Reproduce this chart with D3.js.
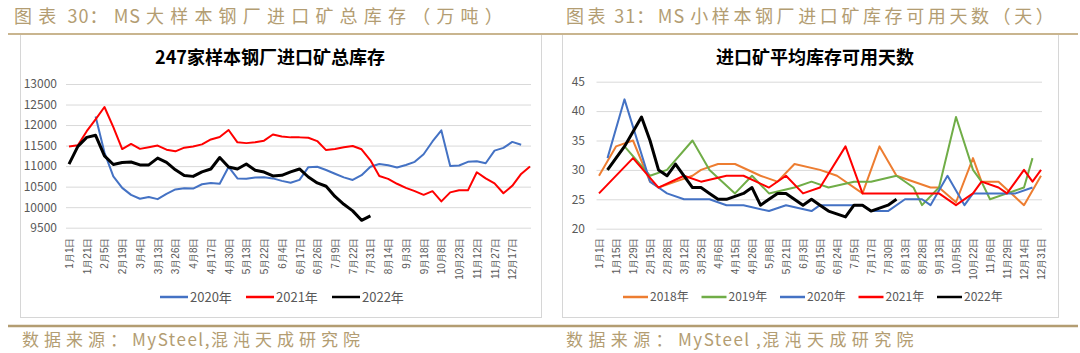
<!DOCTYPE html>
<html>
<head>
<meta charset="utf-8">
<script src="https://cdn.jsdelivr.net/npm/d3@7"></script>
<style>
body { margin: 0; background: #fff; }
svg { display: block; }
</style>
</head>
<body>
<div id="charts"></div>
<script>
// ---- chart 30: total imported ore stock (10k t), weekly points ----
var stockDates = ["1月1日","1月21日","2月5日","2月19日","3月4日","3月13日","3月26日","4月8日","4月17日","4月30日",
    "5月13日","5月22日","6月4日","6月17日","6月26日","7月9日","7月22日","7月31日","8月14日","9月3日",
    "9月18日","10月8日","10月23日","11月12日","11月27日","12月17日"];
var stockTicks = [9500, 10000, 10500, 11000, 11500, 12000, 12500, 13000];

var stock2020 = [null, null, null, 12210, 11330, 10750, 10470, 10300, 10205, 10250,
    10196, 10324, 10432, 10462, 10453, 10558, 10587, 10570, 10980, 10700,
    10694, 10725, 10730, 10701, 10640, 10596, 10665, 10975, 10983, 10906,
    10815, 10725, 10662, 10779, 10983, 11050, 11021, 10965, 11027, 11104,
    11290, 11600, 11870, 11000, 11014, 11105, 11117, 11070, 11377, 11444,
    11590, 11521];
var stock2021 = [11480, 11510, 11850, 12140, 12440, 11950, 11415, 11540, 11420, 11460,
    11500, 11400, 11360, 11450, 11480, 11530, 11650, 11710, 11880, 11580,
    11560, 11580, 11620, 11770, 11720, 11700, 11700, 11690, 11610, 11390,
    11415, 11460, 11490, 11410, 11140, 10760, 10690, 10570, 10470, 10390,
    10300, 10390, 10140, 10360, 10410, 10410, 10850, 10700, 10580, 10340,
    10520, 10810, 10990];
var stock2022 = [11050, 11480, 11700, 11750, 11250, 11040, 11090, 11100, 11030, 11030,
    11195, 11090, 10910, 10770, 10750, 10860, 10930, 11210, 10980, 10930,
    11050, 10900, 10855, 10760, 10775, 10860, 10930, 10735, 10590, 10510,
    10260, 10070, 9910, 9680, 9790];

// ---- chart 31: usable days of imported ore stock ----
var dayDates = ["1月1日","1月15日","1月29日","2月15日","2月28日","3月12日","3月25日","4月6日","4月15日","4月26日",
    "5月8日","5月21日","6月3日","6月15日","6月24日","7月5日","7月17日","7月30日","8月13日","8月28日",
    "9月13日","10月5日","10月22日","11月6日","11月29日","12月14日","12月31日"];
var dayTicks = [20, 25, 30, 35, 40, 45];

var days2018 = [29, null, 34, null, 35, null, 28, 27, null, 28,
    null, 29, 30, null, 31, null, 31, null, null, 29,
    null, 28, null, 31, null, null, 30, null, 29, null,
    null, 26, null, 34, null, 29, null, null, null, 27,
    27, null, 24.5, null, 32, 28, null, 28, null, null,
    24, null, 29];
var days2019 = [null, 30, null, 34, null, null, 29, null, 30, null,
    null, 35, null, 30, null, null, 26, null, 29, null,
    26, null, null, 27, null, 28, null, 27, null, null,
    28, null, 28, null, null, 29, null, 27, 24, null,
    27, null, 39, null, 30, 28, 25, null, 26, null,
    27, 32, null];
var days2020 = [null, 32, null, 42, null, null, 28, 27, 26, null,
    25, null, null, 25, null, 24, null, 24, null, null,
    23, null, 24, null, null, 23, 24, null, null, 24,
    null, 24, 23, null, 23, null, 25, null, 25, 24,
    null, 29, null, 24, 26, null, null, 26, null, 26,
    null, 27, null];
var days2021 = [26, null, null, null, 32, null, null, 27, null, null,
    29, null, 28, null, null, 29, null, 29, null, null,
    27, null, 29, null, 26, null, 27, null, null, 34,
    null, 26, null, null, null, null, null, null, null, null,
    26, null, 24, null, 26, 28, null, 27, 26, null,
    30, 28, 30];
var days2022 = [null, 30, null, 34, null, 39, 35, 30, 29, 31,
    null, 27, 27, 26, 25, 25, null, 26, 27, 24,
    25, 26, 26, null, 24, 25, 24, 23, null, 22,
    24, 24, 23, null, 24, 25];

var FONT = "'Noto Sans CJK SC', 'Noto Sans', sans-serif";
var TAN = "#b39d72";

var svg = d3.select("#charts").append("svg")
    .attr("width", 1080)
    .attr("height", 353)
    .style("background", "#fff");

// frames, header and footer rules
svg.append("rect").attr("x", 20.5).attr("y", 34.5).attr("width", 521).attr("height", 283)
    .attr("fill", "none").attr("stroke", "#d6d6d6");
svg.append("rect").attr("x", 562.5).attr("y", 34.5).attr("width", 496).attr("height", 283)
    .attr("fill", "none").attr("stroke", "#d6d6d6");
svg.append("line").attr("x1", 8).attr("x2", 1078).attr("y1", 34).attr("y2", 34)
    .attr("stroke", "#c9b58f").attr("stroke-width", 2);
svg.append("line").attr("x1", 8).attr("x2", 1078).attr("y1", 326).attr("y2", 326)
    .attr("stroke", TAN).attr("stroke-width", 2.5);

// wide spacing for CJK glyphs, tight for latin runs
function header(x, y, str, size, cjkGap, latinGap) {
    var t = svg.append("text")
        .attr("x", x).attr("y", y)
        .attr("font-family", FONT)
        .attr("font-size", size)
        .attr("fill", TAN);
    str.match(/[\u0000-\u00ff]+|[^\u0000-\u00ff]+/g).forEach(function(seg) {
        t.append("tspan")
            .attr("letter-spacing", /[\u0000-\u00ff]/.test(seg) ? latinGap : cjkGap)
            .text(seg);
    });
}
header(14, 23, "图表 30：MS 大样本钢厂进口矿总库存（万吨）", "18px", "6.2px", "1px");
header(566, 23, "图表 31：MS 小样本钢厂进口矿库存可用天数（天）", "18px", "3.6px", "1px");
header(22, 346, "数据来源：MySteel,混沌天成研究院", "17px", "5px", "1.5px");
header(566, 346, "数据来源：MySteel ,混沌天成研究院", "17px", "5.4px", "1.5px");

function drawPanel(p) {
    var g = svg.append("g");
    var x = d3.scalePoint().domain(d3.range(53)).range(p.xRange);
    var y = d3.scaleLinear().domain(p.yDomain).range(p.yRange);

    // gridlines + y labels
    g.append("g")
        .attr("transform", "translate(" + p.gridLeft + ",0)")
        .call(d3.axisLeft(y).tickValues(p.yTicks).tickFormat(d3.format("d"))
            .tickSize(-(p.gridRight - p.gridLeft)).tickPadding(p.pad))
        .call(a => a.select(".domain").remove())
        .call(a => a.selectAll("line").attr("stroke", "#d9d9d9"))
        .call(a => a.selectAll("text").attr("fill", "#595959"))
        .attr("font-family", FONT)
        .attr("font-size", "12px");

    // rotated date labels, every second week
    g.append("g")
        .attr("transform", "translate(0," + p.labelTop + ")")
        .attr("font-family", FONT)
        .attr("font-size", "11.5px")
        .call(d3.axisBottom(x).tickValues(p.dates.map((d, i) => i * 2))
            .tickFormat(i => p.dates[i / 2]).tickSize(0))
        .call(a => a.select(".domain").remove())
        .selectAll("text")
        .attr("transform", "rotate(-90)")
        .attr("x", 0).attr("y", 0).attr("dy", "0.35em")
        .attr("fill", "#595959")
        .style("text-anchor", "end");

    p.series.forEach(function(s) {
        var pts = s.values.map((v, i) => [i, v]).filter(d => d[1] != null);
        g.append("path")
            .datum(pts)
            .attr("fill", "none")
            .attr("stroke", s.color)
            .attr("stroke-width", s.width)
            .attr("stroke-linejoin", "round")
            .attr("d", d3.line().x(d => x(d[0])).y(d => y(d[1])));
    });

    // title
    g.append("text")
        .attr("x", p.titleX).attr("y", 64)
        .attr("text-anchor", "middle")
        .attr("font-family", FONT)
        .attr("font-weight", "bold")
        .attr("font-size", p.titleSize)
        .attr("fill", "#000")
        .text(p.title);

    // legend
    var leg = g.selectAll(".leg").data(p.series).enter().append("g")
        .attr("transform", (d, i) => "translate(" + (p.legendX + i * p.legendStep) + ",297)");
    leg.append("line").attr("x1", 0).attr("x2", p.legendLine)
        .attr("stroke", d => d.color).attr("stroke-width", 2.5);
    leg.append("text")
        .attr("x", p.legendLine + 2).attr("dy", "0.35em")
        .attr("font-family", FONT)
        .attr("font-size", p.legendSize)
        .attr("fill", "#595959")
        .text(d => d.name);
}

drawPanel({
    xRange: [69, 530], yDomain: [9500, 13000], yRange: [227.7, 84],
    gridLeft: 66, gridRight: 531, pad: 9, yTicks: stockTicks,
    dates: stockDates, labelTop: 237.5,
    title: "247家样本钢厂进口矿总库存", titleX: 270, titleSize: "18px",
    legendX: 160, legendStep: 86, legendLine: 28, legendSize: "13px",
    series: [
        { name: "2020年", values: stock2020, color: "#4472C4", width: 2 },
        { name: "2021年", values: stock2021, color: "#FF0000", width: 2 },
        { name: "2022年", values: stock2022, color: "#000000", width: 3 }
    ]
});

drawPanel({
    xRange: [599, 1041], yDomain: [20, 45], yRange: [228.7, 81.7],
    gridLeft: 596.5, gridRight: 1042, pad: 11.5, yTicks: dayTicks,
    dates: dayDates, labelTop: 237.5,
    title: "进口矿平均库存可用天数", titleX: 815, titleSize: "18px",
    legendX: 623, legendStep: 78.5, legendLine: 25, legendSize: "12px",
    series: [
        { name: "2018年", values: days2018, color: "#ED7D31", width: 2 },
        { name: "2019年", values: days2019, color: "#70AD47", width: 2 },
        { name: "2020年", values: days2020, color: "#4472C4", width: 2 },
        { name: "2021年", values: days2021, color: "#FF0000", width: 2 },
        { name: "2022年", values: days2022, color: "#000000", width: 3 }
    ]
});
</script>
</body>
</html>
